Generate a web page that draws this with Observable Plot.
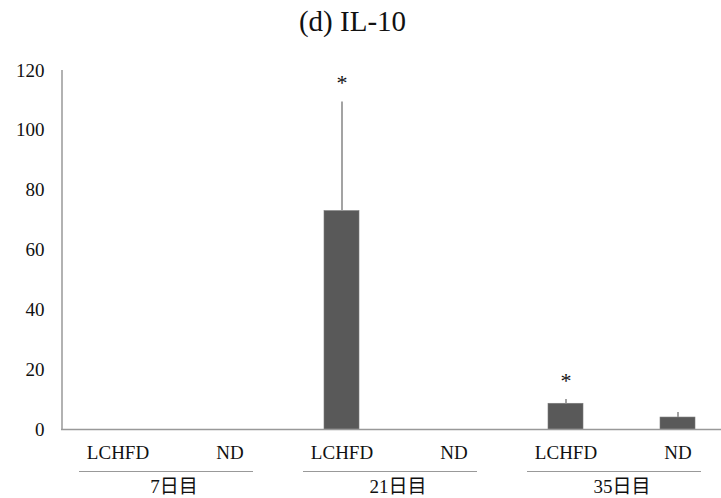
<!DOCTYPE html>
<html><head><meta charset="utf-8">
<script src="https://cdn.jsdelivr.net/npm/d3@7"></script>
<script src="https://cdn.jsdelivr.net/npm/@observablehq/plot@0.6"></script>
<style>
body{margin:0;background:#fff;font-family:"Liberation Serif","Noto Sans CJK JP",serif;}
#title{height:42px;line-height:42px;text-align:center;font-size:29px;color:#111;width:705px;}
</style></head><body>
<div id="title">(d) IL-10</div>
<div id="chart"></div>
<script>
const groups = ["7日目","7日目","21日目","21日目","35日目","35日目"];
const diets = ["LCHFD","ND","LCHFD","ND","LCHFD","ND"];
const means = [0, 0, 73, 0, 8.6, 4.0];
const errors = [0, 0, 36.5, 0, 1.4, 1.7];
const marks = ["", "", "*", "", "*", ""];
const yTicks = [0,20,40,60,80,100,120];

const data = groups.map((g,i)=>({key:g+" "+diets[i], group:g, diet:diets[i], mean:means[i], err:errors[i], sig:marks[i]}));
const keys = data.map(d=>d.key);
const groupStarts = data.filter((d,i)=>i%2===0);
const ff = "Liberation Serif, Noto Sans CJK JP, serif";

const plot = Plot.plot({
  width: 721, height: 456,
  marginLeft: 61, marginRight: 0, marginTop: 28, marginBottom: 69,
  style: {fontSize: "19px", color: "#111", background: "#fff", overflow: "visible"},
  x: {domain: keys, range: [61, 733], paddingInner: 0.69, paddingOuter: 0.345, axis: null},
  y: {domain: [0,120], ticks: yTicks, axis: null},
  marks: [
    Plot.axisY({ticks: yTicks, tickSize: 0, tickPadding: 17, fontSize: 19, label: null, fill: "#111"}),
    Plot.axisX({tickSize: 0, tickPadding: 16, fontSize: 19, label: null, fill: "#111", tickFormat: k => k.split(" ")[1]}),
    Plot.barY(data, {x: "key", y: "mean", fill: "#595959", stroke: "#7a7a7a", strokeWidth: 0.6}),
    Plot.ruleX(data.filter(d=>d.err>0), {x: "key", y1: "mean", y2: d=>d.mean+d.err, stroke: "#999", strokeWidth: 1.8}),
    Plot.text(data.filter(d=>d.sig), {x: "key", y: d=>d.mean+d.err, text: "sig", lineAnchor: "bottom", dy: -12, fontSize: 22, fill: "#111"}),
    Plot.ruleY([0], {stroke: "#999", strokeWidth: 1.5}),
    Plot.ruleX([keys[0]], {x: d=>d, y1: 0, y2: 120, dx: -56, stroke: "#999", strokeWidth: 1.5}),
    Plot.ruleY(groupStarts, {y: 0, x1: "key", x2: d=>keys[keys.indexOf(d.key)+1], insetLeft: -21, insetRight: -6, dy: 42, stroke: "#999", strokeWidth: 1.2}),
    Plot.text(groupStarts, {x: "key", y: 0, text: "group", dx: 56, dy: 57, fontSize: 19, fill: "#111"})
  ]
});
d3.select(plot).attr("font-family", ff).style("font-family", ff);
d3.select(plot).selectAll("g").attr("font-family", ff);
d3.select(plot).selectAll("text").attr("font-family", ff).style("font-family", ff);
document.getElementById("chart").appendChild(plot);
</script>
</body></html>
